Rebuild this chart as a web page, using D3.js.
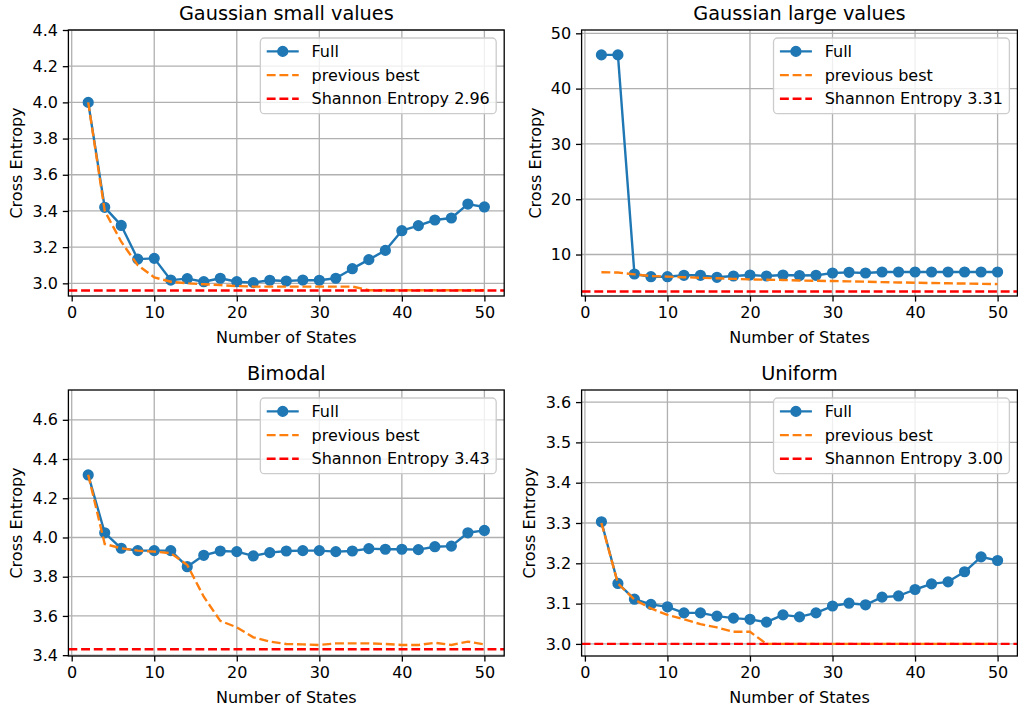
<!DOCTYPE html>
<html>
<head>
<meta charset="utf-8">
<script src="https://cdn.jsdelivr.net/npm/d3@7"></script>
<style>
body { margin: 0; background: #fff; }
text { font-family: "DejaVu Sans", sans-serif; fill: #000; }
</style>
</head>
<body>
<script>
// number of states on the x axis
var states = [2,4,6,8,10,12,14,16,18,20,22,24,26,28,30,32,34,36,38,40,42,44,46,48,50];
var xTicks = [0,10,20,30,40,50];

var titles = ["Gaussian small values", "Gaussian large values", "Bimodal", "Uniform"];
var entropies = [2.96, 3.31, 3.43, 3.00];

// "Full" runs
var fullSmall = [4.00,3.42,3.32,3.134,3.138,3.018,3.026,3.009,3.028,3.009,3.004,3.017,3.013,3.018,3.017,3.028,3.081,3.131,3.182,3.291,3.319,3.35,3.361,3.438,3.422];
var fullLarge = [46.1,46.1,6.48,5.99,5.99,6.24,6.24,5.88,6.12,6.30,6.12,6.30,6.2,6.24,6.66,6.78,6.66,6.84,6.84,6.84,6.84,6.84,6.84,6.84,6.84];
var fullBimodal = [4.319,4.024,3.945,3.933,3.933,3.933,3.851,3.909,3.931,3.928,3.906,3.923,3.931,3.933,3.933,3.928,3.931,3.943,3.940,3.940,3.938,3.953,3.956,4.024,4.036];
var fullUniform = [3.303,3.150,3.111,3.098,3.092,3.077,3.077,3.069,3.064,3.061,3.054,3.072,3.067,3.077,3.094,3.101,3.097,3.116,3.119,3.135,3.149,3.154,3.179,3.216,3.207];

// "previous best" runs
var bestSmall = [4.00,3.40,3.23,3.10,3.033,3.009,3.0,2.995,2.99,2.985,2.982,2.982,2.982,2.982,2.982,2.982,2.982,2.962,2.962,2.962,2.962,2.962,2.962,2.962,2.962];
var bestLarge = [6.8,6.75,6.4,6.1,6.0,5.9,5.8,5.7,5.6,5.5,5.45,5.4,5.3,5.25,5.2,5.15,5.1,5.0,4.95,4.9,4.85,4.8,4.75,4.7,4.65];
var bestBimodal = [4.32,3.967,3.945,3.933,3.928,3.92,3.86,3.698,3.575,3.542,3.491,3.469,3.457,3.455,3.452,3.46,3.46,3.46,3.457,3.452,3.452,3.463,3.452,3.469,3.455];
var bestUniform = [3.30,3.15,3.11,3.088,3.072,3.061,3.049,3.041,3.030,3.030,3.0,3.0,3.0,3.0,3.0,3.0,3.0,3.0,3.0,3.0,3.0,3.0,3.0,3.0,3.0];

// y ticks for each panel
var yTicksSmall = [3.0,3.2,3.4,3.6,3.8,4.0,4.2,4.4];
var yTicksLarge = [10,20,30,40,50];
var yTicksBimodal = [3.4,3.6,3.8,4.0,4.2,4.4,4.6];
var yTicksUniform = [3.0,3.1,3.2,3.3,3.4,3.5,3.6];

var fulls = [fullSmall, fullLarge, fullBimodal, fullUniform];
var bests = [bestSmall, bestLarge, bestBimodal, bestUniform];
var yTicks = [yTicksSmall, yTicksLarge, yTicksBimodal, yTicksUniform];
var yFormats = [d3.format(".1f"), d3.format("d"), d3.format(".1f"), d3.format(".1f")];
var yDomains = [[2.93, 4.4], [2.5, 50.6], [3.3957, 4.752], [2.97, 3.63]];

var W = 1018, H = 707;
var lefts = [68.4, 581.6], tops = [30, 390];
var pw = 435.8, ph = 266;
var blue = "#1f77b4", orange = "#ff7f0e", red = "#ff0000", gridCol = "#b0b0b0";
var fs = 16;

var svg = d3.select("body").append("svg").attr("width", W).attr("height", H);

titles.forEach(function(title, i) {
  var x0 = lefts[i % 2], y0 = tops[Math.floor(i / 2)];
  var g = svg.append("g").attr("transform", "translate(" + x0 + "," + y0 + ")");

  var x = d3.scaleLinear().domain([-0.4, 52.4]).range([0, pw]);
  var y = d3.scaleLinear().domain(yDomains[i]).range([ph, 0]);

  g.append("clipPath").attr("id", "clip" + i)
    .append("rect").attr("width", pw).attr("height", ph);

  // grid
  g.selectAll(".gx").data(xTicks).enter().append("line")
    .attr("x1", function(d) { return x(d); }).attr("x2", function(d) { return x(d); })
    .attr("y1", 0).attr("y2", ph)
    .attr("stroke", gridCol).attr("stroke-width", 1.3);
  g.selectAll(".gy").data(yTicks[i]).enter().append("line")
    .attr("x1", 0).attr("x2", pw)
    .attr("y1", function(d) { return y(d); }).attr("y2", function(d) { return y(d); })
    .attr("stroke", gridCol).attr("stroke-width", 1.3);

  var plot = g.append("g").attr("clip-path", "url(#clip" + i + ")");
  var line = d3.line().x(function(d) { return x(d[0]); }).y(function(d) { return y(d[1]); });

  var fullPts = states.map(function(s, k) { return [s, fulls[i][k]]; });
  var bestPts = states.map(function(s, k) { return [s, bests[i][k]]; });

  plot.append("path").datum(fullPts).attr("d", line)
    .attr("fill", "none").attr("stroke", blue).attr("stroke-width", 2.4).attr("stroke-linejoin", "round");
  plot.selectAll(".pt").data(fullPts).enter().append("circle")
    .attr("cx", function(d) { return x(d[0]); }).attr("cy", function(d) { return y(d[1]); })
    .attr("r", 4.8).attr("fill", blue).attr("stroke", blue).attr("stroke-width", 1.6);

  plot.append("path").datum(bestPts).attr("d", line)
    .attr("fill", "none").attr("stroke", orange).attr("stroke-width", 2.4)
    .attr("stroke-dasharray", "8.9,3.8");

  plot.append("line").attr("x1", 0).attr("x2", pw)
    .attr("y1", y(entropies[i])).attr("y2", y(entropies[i]))
    .attr("stroke", red).attr("stroke-width", 2.4).attr("stroke-dasharray", "8.9,3.8");

  // spines
  g.append("rect").attr("width", pw).attr("height", ph)
    .attr("fill", "none").attr("stroke", "#000").attr("stroke-width", 1.3);

  // axes
  var xa = g.append("g").attr("transform", "translate(0," + ph + ")")
    .call(d3.axisBottom(x).tickValues(xTicks).tickSize(5.6).tickPadding(4.9).tickFormat(d3.format("d")));
  var ya = g.append("g")
    .call(d3.axisLeft(y).tickValues(yTicks[i]).tickSize(5.6).tickPadding(4.9).tickFormat(yFormats[i]));
  [xa, ya].forEach(function(a) {
    a.select(".domain").remove();
    a.attr("font-size", null).attr("font-family", null);
    a.selectAll("line").attr("stroke", "#000").attr("stroke-width", 1.3);
    a.selectAll("text").style("font-size", fs + "px").attr("fill", "#000");
  });

  var maxW = 0;
  ya.selectAll("text").each(function() { maxW = Math.max(maxW, this.getBBox().width); });

  g.append("text").attr("x", pw / 2).attr("y", ph + 46.5)
    .attr("text-anchor", "middle").style("font-size", fs + "px").text("Number of States");
  g.append("text")
    .attr("transform", "translate(" + (-10.5 - maxW - 10.2) + "," + (ph / 2) + ") rotate(-90)")
    .attr("text-anchor", "middle").style("font-size", fs + "px").text("Cross Entropy");
  g.append("text").attr("x", pw / 2).attr("y", -9.7)
    .attr("text-anchor", "middle").style("font-size", "19.3px").text(title);

  // legend
  var labels = ["Full", "previous best", "Shannon Entropy " + entropies[i].toFixed(2)];
  var leg = g.append("g");
  var box = leg.append("rect");
  var items = leg.selectAll(".item").data(labels).enter().append("g")
    .attr("transform", function(d, k) { return "translate(0," + (13.4 + k * 23.7) + ")"; });
  items.append("text").attr("x", 6.4 + 32 + 12.8).attr("dy", "0.35em")
    .style("font-size", fs + "px").text(function(d) { return d; });
  var tw = 0;
  items.selectAll("text").each(function() { tw = Math.max(tw, this.getComputedTextLength()); });
  var lw = 6.4 + 32 + 12.8 + tw + 6.4;
  items.append("line").attr("x1", 6.4).attr("x2", 38.4).attr("y1", 0).attr("y2", 0)
    .attr("stroke-width", 2.4)
    .attr("stroke", function(d, k) { return [blue, orange, red][k]; })
    .attr("stroke-dasharray", function(d, k) { return k === 0 ? null : "8.9,3.8"; });
  items.filter(function(d, k) { return k === 0; }).append("circle")
    .attr("cx", 22.4).attr("cy", 0).attr("r", 4.8)
    .attr("fill", blue).attr("stroke", blue).attr("stroke-width", 1.6);
  box.attr("width", lw).attr("height", 75.7).attr("rx", 4)
    .attr("fill", "#fff").attr("fill-opacity", 0.8)
    .attr("stroke", "#cccccc").attr("stroke-width", 1.3);
  leg.attr("transform", "translate(" + (pw - 8 - lw) + ",8)");
});
</script>
</body>
</html>
